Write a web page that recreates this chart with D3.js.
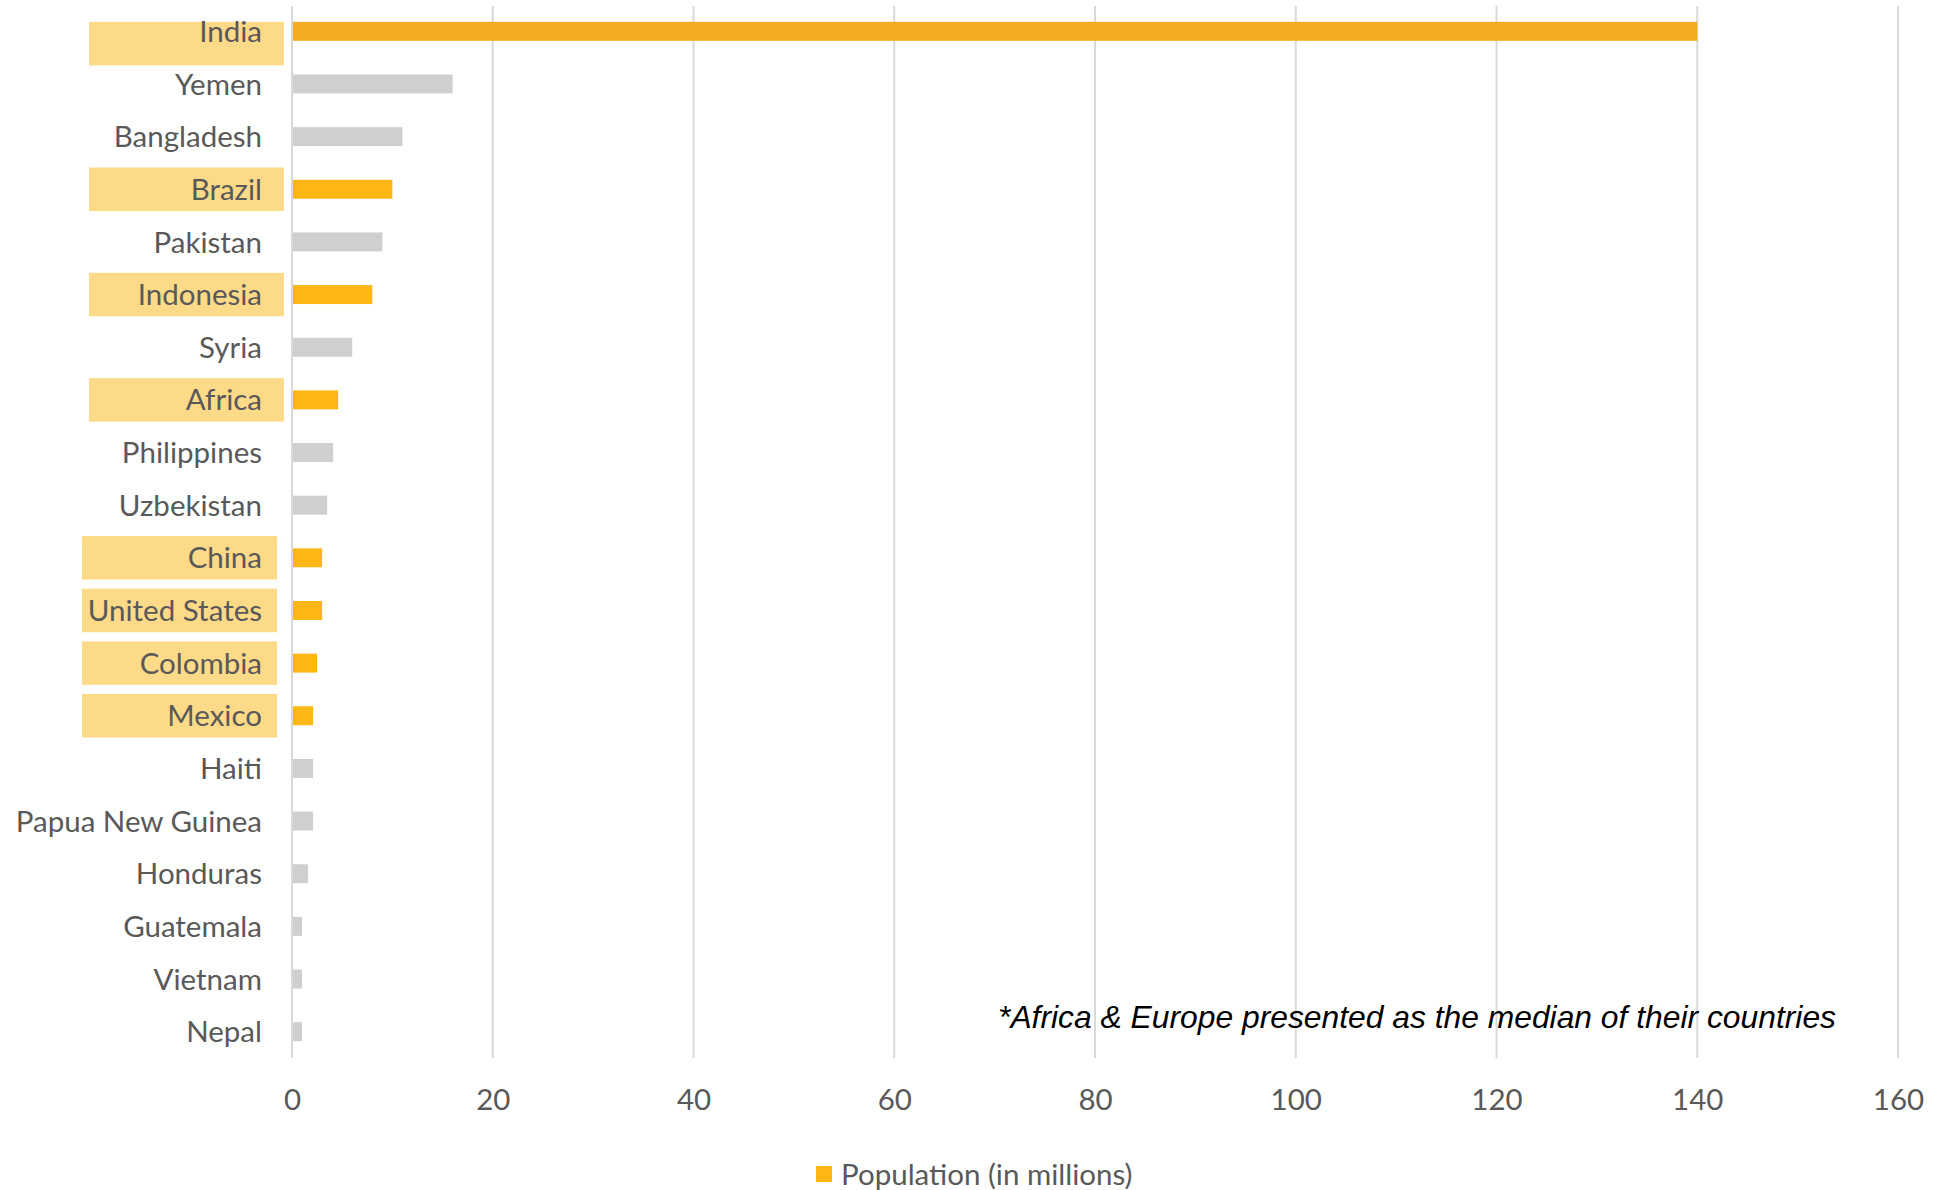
<!DOCTYPE html>
<html>
<head>
<meta charset="utf-8">
<script src="https://cdn.jsdelivr.net/npm/d3@7"></script>
<style>
  html, body { margin: 0; padding: 0; background: #fff; }
  svg { display: block; }
</style>
</head>
<body>
<svg id="chart" width="1936" height="1190"></svg>
<script>
// Population (in millions), ordered from largest to smallest
const categories = ["India", "Yemen", "Bangladesh", "Brazil", "Pakistan", "Indonesia", "Syria",
  "Africa", "Philippines", "Uzbekistan", "China", "United States", "Colombia", "Mexico",
  "Haiti", "Papua New Guinea", "Honduras", "Guatemala", "Vietnam", "Nepal"];
const population = [140, 16, 11, 10, 9, 8, 6, 4.6, 4.1, 3.5, 3, 3, 2.5, 2.1, 2.1, 2.1, 1.6, 1, 1, 1];
const highlighted = ["India", "Brazil", "Indonesia", "Africa", "China", "United States", "Colombia", "Mexico"];
const xTicks = [0, 20, 40, 60, 80, 100, 120, 140, 160];
const seriesName = "Population (in millions)";
const footnote = "*Africa & Europe presented as the median of their countries";

const data = categories.map((c, i) => ({ name: c, value: population[i], hl: highlighted.includes(c) }));

const svg = d3.select("#chart");
const FONT = "Lato, 'Open Sans', sans-serif";
const FS = 29.5;
const TEXT = "#595959";

const x = d3.scaleLinear().domain([0, 160]).range([292, 1898]);
const y = d3.scaleBand().domain(categories).range([5, 1058]).paddingInner(0.64).paddingOuter(0.32);

// vertical gridlines
svg.append("g").selectAll("line").data(xTicks).join("line")
  .attr("x1", d => x(d)).attr("x2", d => x(d))
  .attr("y1", 6).attr("y2", 1058)
  .attr("stroke", "#D9D9D9").attr("stroke-width", 2);

// highlight boxes behind the emphasised category labels
const boxH = 43.5;
const firstTop = y(categories[0]);
svg.append("g").selectAll("rect").data(data.filter(d => d.hl)).join("rect")
  .attr("x", d => categories.indexOf(d.name) < 10 ? 89 : 82)
  .attr("width", 195)
  .attr("y", d => Math.max(y(d.name) + y.bandwidth() / 2 - boxH / 2, firstTop))
  .attr("height", boxH)
  .attr("fill", "#FDDA88");

// bars
svg.append("g").selectAll("rect").data(data).join("rect")
  .attr("x", x(0) + 1)
  .attr("y", d => y(d.name))
  .attr("width", d => x(d.value) - x(0) - 1)
  .attr("height", y.bandwidth())
  .attr("fill", (d, i) => !d.hl ? "#D0CECE" : (i === 0 ? "#F1AC21" : "#FDB714"));

// category labels
svg.append("g").selectAll("text").data(data).join("text")
  .attr("x", 262)
  .attr("y", d => y(d.name) + y.bandwidth() / 2)
  .attr("dy", "0.36em")
  .attr("text-anchor", "end")
  .attr("font-family", FONT).attr("font-size", FS).attr("fill", TEXT)
  .text(d => d.name);

// x axis tick labels
const xAxis = d3.axisBottom(x).tickValues(xTicks).tickSize(0).tickPadding(31).tickFormat(d3.format("d"));
const gx = svg.append("g").attr("transform", "translate(0,1058)").call(xAxis);
gx.select(".domain").remove();
gx.selectAll("text").attr("font-family", FONT).attr("font-size", FS).attr("fill", TEXT);

// footnote
svg.append("text")
  .attr("x", 998).attr("y", 1028)
  .attr("font-family", "'Liberation Sans', Arial, sans-serif")
  .attr("font-style", "italic").attr("font-size", 30.5).attr("fill", "#000")
  .attr("textLength", 838).attr("lengthAdjust", "spacingAndGlyphs")
  .text(footnote);

// legend
const lg = svg.append("g");
lg.append("rect").attr("x", 816).attr("y", 1166).attr("width", 16).attr("height", 16).attr("fill", "#FDB714");
lg.append("text").attr("x", 841).attr("y", 1174).attr("dy", "0.36em")
  .attr("font-family", FONT).attr("font-size", FS).attr("fill", TEXT)
  .text(seriesName);
</script>
</body>
</html>
